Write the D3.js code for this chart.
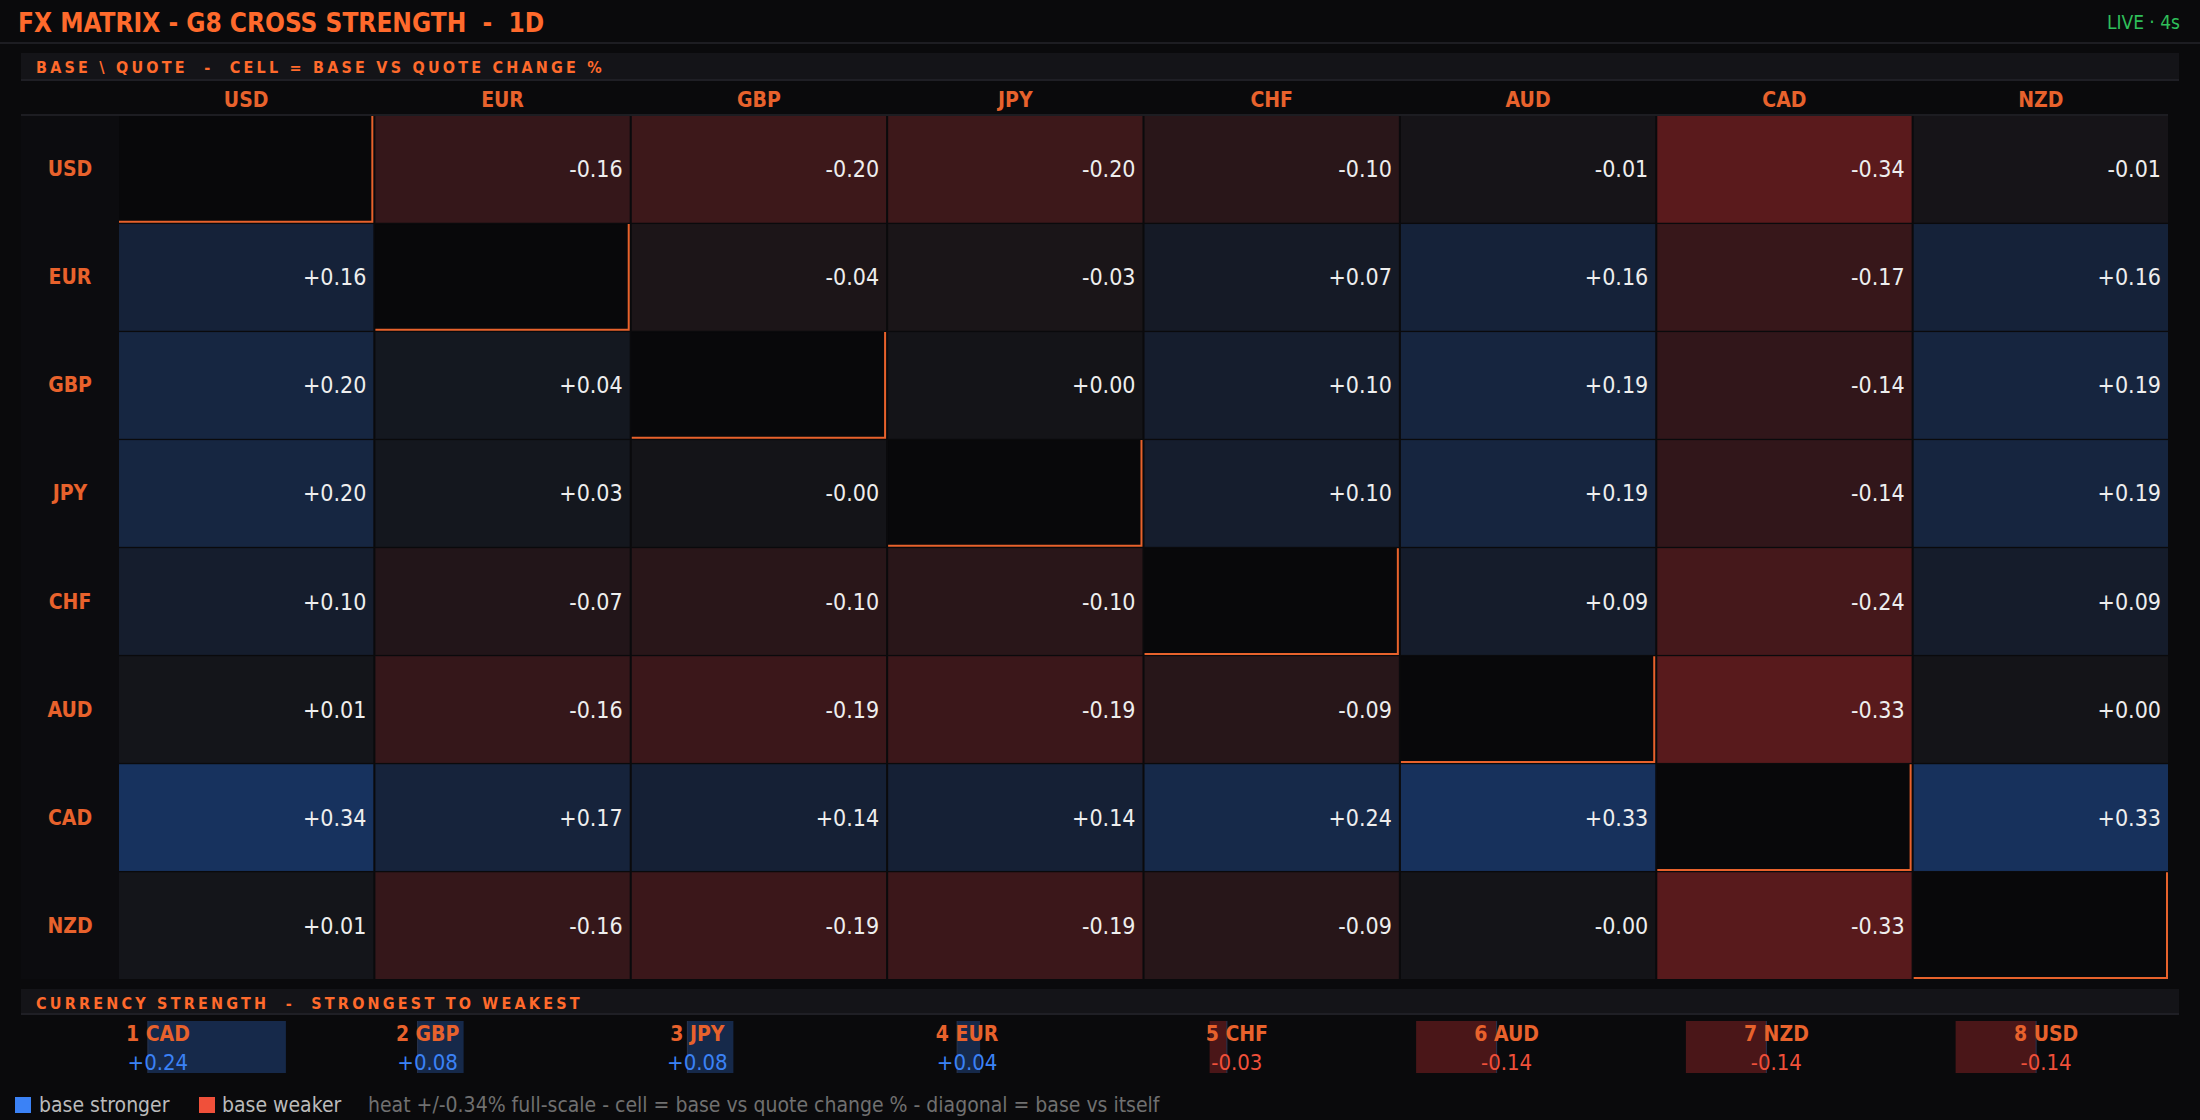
<!DOCTYPE html>
<html><head><meta charset="utf-8">
<script src="https://cdn.jsdelivr.net/npm/d3@7"></script>
<style>html,body{margin:0;background:#0a0a0c;overflow:hidden}</style>
</head><body><svg id="c" width="2200" height="1120"></svg>
<script>
const currencies = ["USD","EUR","GBP","JPY","CHF","AUD","CAD","NZD"];
const matrix = [
 [null,-0.16,-0.20,-0.20,-0.10,-0.01,-0.34,-0.01],
 [0.16,null,-0.04,-0.03,0.07,0.16,-0.17,0.16],
 [0.20,0.04,null,0.001,0.10,0.19,-0.14,0.19],
 [0.20,0.03,-0.001,null,0.10,0.19,-0.14,0.19],
 [0.10,-0.07,-0.10,-0.10,null,0.09,-0.24,0.09],
 [0.01,-0.16,-0.19,-0.19,-0.09,null,-0.33,0.001],
 [0.34,0.17,0.14,0.14,0.24,0.33,null,0.33],
 [0.01,-0.16,-0.19,-0.19,-0.09,-0.001,-0.33,null]
];
const rankNames = ["CAD","GBP","JPY","EUR","CHF","AUD","NZD","USD"];
const rankValues = [0.24,0.08,0.08,0.04,-0.03,-0.14,-0.14,-0.14];
const fullScale = 0.34;

const svg = d3.select("#c");
const F = "'DejaVu Sans Condensed','DejaVu Sans',sans-serif";
const OR = "#ff6a2c";
svg.append("rect").attr("width",2200).attr("height",1120).attr("fill","#0a0a0c");

svg.append("text").attr("x",18).attr("y",32).attr("font-family",F).attr("font-weight","bold")
  .attr("font-size",26).attr("fill",OR).attr("xml:space","preserve").text("FX MATRIX - G8 CROSS STRENGTH  -  1D");
svg.append("text").attr("x",2180).attr("y",29).attr("text-anchor","end").attr("font-family",F)
  .attr("font-size",19).attr("fill","#2fbf5a").text("LIVE · 4s");
svg.append("line").attr("x1",0).attr("x2",2200).attr("y1",43).attr("y2",43).attr("stroke","#1d1d22").attr("stroke-width",2);

function band(y0,y1,label,ty){
  svg.append("rect").attr("x",21).attr("y",y0).attr("width",2158).attr("height",y1-y0).attr("fill","#141418");
  svg.append("line").attr("x1",21).attr("x2",2179).attr("y1",y1).attr("y2",y1).attr("stroke","#1f1f25").attr("stroke-width",2);
  svg.append("text").attr("x",36).attr("y",ty).attr("font-family",F).attr("font-weight","bold")
    .attr("font-size",16).attr("letter-spacing",3.2).attr("fill",OR).attr("xml:space","preserve").text(label);
}
band(53,80,"BASE \\ QUOTE  -  CELL = BASE VS QUOTE CHANGE %",73);

const x = d3.scaleBand().domain(currencies).range([119,2168]).paddingInner(0.008);
const y = d3.scaleBand().domain(currencies).range([116,979]).paddingInner(0.012);
svg.append("rect").attr("x",21).attr("y",116).attr("width",98).attr("height",863).attr("fill","#0c0c0f");
svg.append("line").attr("x1",21).attr("x2",2168).attr("y1",115).attr("y2",115).attr("stroke","#1d1d22").attr("stroke-width",2);

svg.selectAll(".ch").data(currencies).join("text").attr("x",d=>x(d)+x.bandwidth()/2).attr("y",107)
  .attr("text-anchor","middle").attr("font-family",F).attr("font-weight","bold").attr("font-size",21).attr("fill","#e8622c").text(d=>d);
svg.selectAll(".rh").data(currencies).join("text").attr("x",70).attr("y",d=>y(d)+y.bandwidth()/2+7)
  .attr("text-anchor","middle").attr("font-family",F).attr("font-weight","bold").attr("font-size",21).attr("fill","#e8622c").text(d=>d);

const neg = d3.scaleLinear().domain([0,fullScale]).range(["#141418","#5a1a1c"]);
const pos = d3.scaleLinear().domain([0,fullScale]).range(["#141418","#17325e"]);
const cells=[];
matrix.forEach((r,i)=>r.forEach((v,j)=>cells.push({b:currencies[i],q:currencies[j],v})));
const g = svg.append("g");
cells.forEach(c=>{
  const cx=x(c.q), cy=y(c.b), w=x.bandwidth(), h=y.bandwidth();
  if(c.v===null){
    g.append("rect").attr("x",cx).attr("y",cy).attr("width",w).attr("height",h).attr("fill","#08080a");
    g.append("path").attr("d",`M${cx},${cy+h-1}H${cx+w-1}V${cy}`).attr("fill","none").attr("stroke","#e8622c").attr("stroke-width",2);
  } else {
    g.append("rect").attr("x",cx).attr("y",cy).attr("width",w).attr("height",h)
      .attr("fill",c.v<0?neg(-c.v):pos(c.v));
    g.append("text").attr("x",cx+w-7).attr("y",cy+h/2+8).attr("text-anchor","end").attr("font-family",F)
      .attr("font-size",23).attr("fill","#eeeeee").text((c.v<0?"-":"+")+Math.abs(c.v).toFixed(2));
  }
});

band(989,1014,"CURRENCY STRENGTH  -  STRONGEST TO WEAKEST",1009);
const slot = d3.scaleBand().domain(d3.range(8)).range([21,2179]);
const bw = d3.scaleLinear().domain([0,1]).range([0,575]);
rankNames.forEach((n,i)=>{
  const v=rankValues[i], c=slot(i)+slot.bandwidth()/2-8;
  const len=bw(Math.abs(v));
  svg.append("rect").attr("x",v>=0?c:c-len).attr("y",1021).attr("width",len).attr("height",52)
    .attr("fill",v>=0?"#16294a":"#4a1618");
  svg.append("line").attr("x1",c).attr("x2",c).attr("y1",1021).attr("y2",1073).attr("stroke","#2a3550").attr("stroke-width",1);
  const tx=slot(i)+slot.bandwidth()/2+2;
  svg.append("text").attr("x",tx).attr("y",1041).attr("text-anchor","middle").attr("font-family",F).attr("font-weight","bold")
    .attr("font-size",21).attr("fill","#e8622c").text((i+1)+" "+n);
  svg.append("text").attr("x",tx).attr("y",1070).attr("text-anchor","middle").attr("font-family",F)
    .attr("font-size",22).attr("fill",v>=0?"#3b82f6":"#f0503a").text((v<0?"-":"+")+Math.abs(v).toFixed(2));
});

svg.append("rect").attr("x",15).attr("y",1097).attr("width",16).attr("height",16).attr("fill","#3b82f6");
svg.append("text").attr("x",39).attr("y",1112).attr("font-family",F).attr("font-size",21).attr("fill","#bbbbbb").text("base stronger");
svg.append("rect").attr("x",199).attr("y",1097).attr("width",16).attr("height",16).attr("fill","#f0503a");
svg.append("text").attr("x",222).attr("y",1112).attr("font-family",F).attr("font-size",21).attr("fill","#bbbbbb").text("base weaker");
svg.append("text").attr("x",368).attr("y",1112).attr("font-family",F).attr("font-size",21).attr("fill","#707070")
  .text("heat +/-0.34% full-scale - cell = base vs quote change % - diagonal = base vs itself");
</script></body></html>
